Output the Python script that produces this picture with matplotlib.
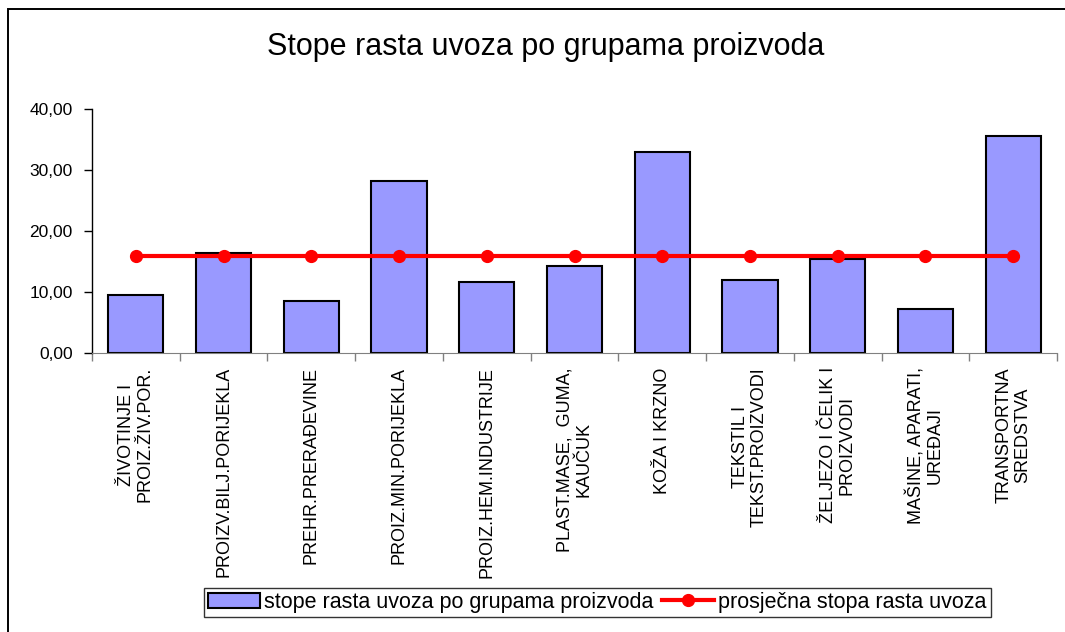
import matplotlib.pyplot as plt
import matplotlib.patches as patches
from matplotlib.ticker import FuncFormatter

plt.rcParams['font.family'] = ['Liberation Sans', 'DejaVu Sans']

categories = ["ŽIVOTINJE I\nPROIZ.ŽIV.POR.", "PROIZV.BILJ.PORIJEKLA", "PREHR.PRERAĐEVINE",
              "PROIZ.MIN.PORIJEKLA", "PROIZ.HEM.INDUSTRIJE", "PLAST.MASE,  GUMA,\nKAUČUK",
              "KOŽA I KRZNO", "TEKSTIL I\nTEKST.PROIZVODI", "ŽELJEZO I ČELIK I\nPROIZVODI",
              "MAŠINE, APARATI,\nUREĐAJI", "TRANSPORTNA\nSREDSTVA"]
growth = [9.5, 16.5, 8.55, 28.2, 11.65, 14.25, 33.0, 12.0, 15.5, 7.25, 35.55]
average = [15.95] * 11

fig = plt.figure(figsize=(10.65, 6.32), dpi=100)
fig.patches.append(patches.Rectangle((8 / 1065, -0.1), 1.2, 1 - 9 / 632 + 0.1,
                                     transform=fig.transFigure, fill=False,
                                     edgecolor='black', linewidth=1.4))

ax = fig.add_axes([92 / 1065, 1 - 353.3 / 632, (1057 - 92) / 1065, (353.3 - 109) / 632])
x = range(len(categories))
bars = ax.bar(x, growth, width=0.63, color='#9999FF', edgecolor='black', linewidth=1.5,
              label='stope rasta uvoza po grupama proizvoda', zorder=2)
line, = ax.plot(x, average, color='red', linewidth=3, marker='o', markersize=8.5,
                label='prosječna stopa rasta uvoza', zorder=3)

ax.set_xlim(-0.5, len(categories) - 0.5)
ax.set_ylim(0, 40)
ax.set_yticks([0, 10, 20, 30, 40])
ax.yaxis.set_major_formatter(FuncFormatter(lambda v, p: f"{v:.2f}".replace('.', ',')))
ax.tick_params(axis='y', labelsize=12.5, length=6, width=1, pad=8)

ax.set_xticks([i + 0.5 for i in range(-1, len(categories))], minor=False)
ax.set_xticklabels([])
ax.tick_params(axis='x', length=6, width=1, color='#808080')
ax.set_xticks(list(x), minor=True)
ax.set_xticklabels(categories, minor=True, rotation=90, fontsize=13,
                   ha='center', va='top', multialignment='center', linespacing=1.1)
ax.tick_params(axis='x', which='minor', length=0, pad=10)

ax.spines['top'].set_visible(False)
ax.spines['right'].set_visible(False)
ax.spines['bottom'].set_color('#808080')
ax.spines['left'].set_linewidth(1)

fig.text(0.512, 1 - 47 / 632, 'Stope rasta uvoza po grupama proizvoda',
         ha='center', va='center', fontsize=22)

leg = fig.legend(handles=[bars, line], loc='center', bbox_to_anchor=(0.561, 1 - 602.5 / 632),
                 ncol=2, fontsize=15.5, frameon=True, fancybox=False, borderpad=0.2,
                 columnspacing=0.4, handletextpad=0.2, handlelength=2.4)
leg.get_frame().set_edgecolor('black')
leg.get_frame().set_linewidth(1)

fig.savefig('out.png', dpi=100)
